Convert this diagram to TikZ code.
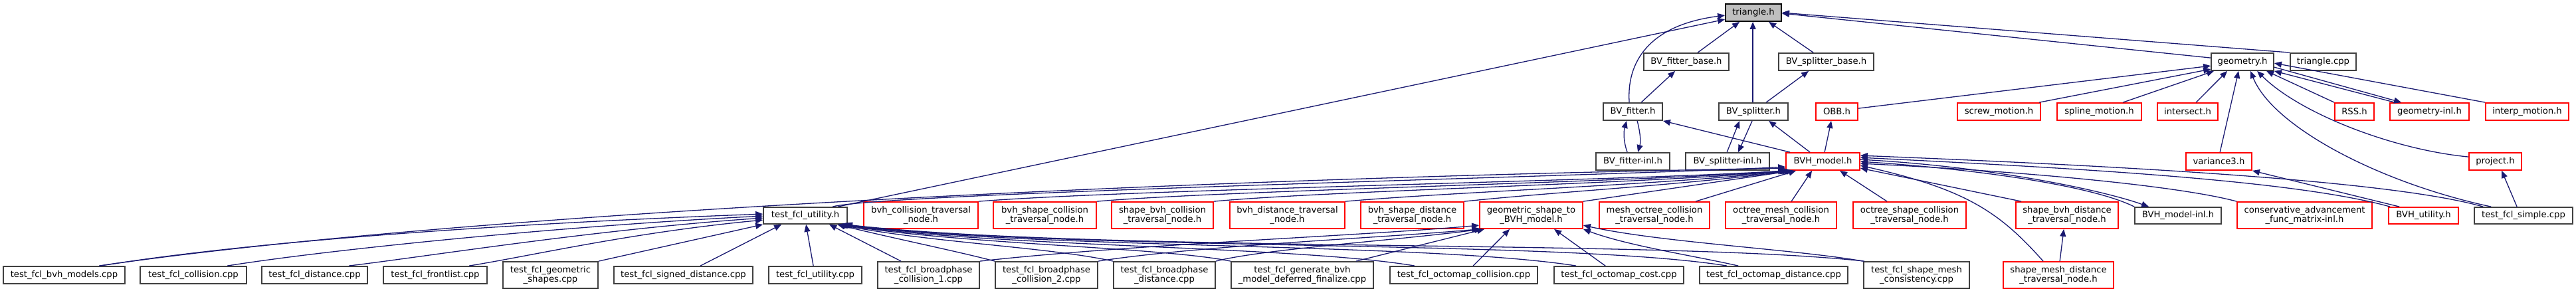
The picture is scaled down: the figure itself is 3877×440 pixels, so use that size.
\documentclass[tikz,border=0pt]{standalone}
\usepackage{fontspec}
\setmainfont{DejaVu Sans}
\usetikzlibrary{arrows.meta}
\definecolor{mb}{HTML}{191970}
\definecolor{bd}{HTML}{404040}
\definecolor{rd}{HTML}{FF0000}
\definecolor{gy}{HTML}{BFBFBF}
\newcommand\nd[7]{%
  \pgfmathsetmacro\ndw{#3-#2}\pgfmathsetmacro\ndh{#5-#4}%
  \pgfmathsetmacro\ndx{(#2+#3)/2}\pgfmathsetmacro\ndy{(#4+#5)/2}%
  \node[#7, minimum width=\ndw pt, minimum height=\ndh pt] (#1) at (\ndx,\ndy) {#6};}
\newcommand\ptN[2]{([xshift=#2pt]#1.north west)}
\newcommand\ptS[2]{([xshift=#2pt]#1.south west)}
\newcommand\ptW[2]{([yshift=-#2pt]#1.north west)}
\newcommand\ptE[2]{([yshift=-#2pt]#1.north east)}
\tikzset{
  basebox/.style={rectangle, line width=1.8pt, inner sep=0pt, align=center, text=black,
    font=\fontsize{13.2pt}{14pt}\selectfont},
  bbox/.style={basebox, draw=bd, fill=white},
  rbox/.style={basebox, draw=rd, fill=white},
  gbox/.style={basebox, draw=black, fill=gy},
  dep/.style={draw=mb, line width=1.3pt, {Triangle[length=11pt,width=9pt]}-}
}
\begin{document}
\begin{tikzpicture}[x=1pt,y=-1pt]
\fill[white] (0,0) rectangle (3877,440);
\useasboundingbox (0,0) rectangle (3877,440);
% row 0-3
\nd{triangle}{2597}{2681}{6}{32}{triangle.h}{gbox}
\nd{BVfb}{2474}{2602}{80}{106}{BV\_fitter\_base.h}{bbox}
\nd{BVsb}{2677}{2820}{80}{106}{BV\_splitter\_base.h}{bbox}
\nd{geom}{3328}{3422}{80}{106}{geometry.h}{bbox}
\nd{tcpp}{3447}{3546}{80}{106}{triangle.cpp}{bbox}
\nd{BVf}{2413}{2502}{155}{181}{BV\_fitter.h}{bbox}
\nd{BVs}{2587}{2691}{155}{181}{BV\_splitter.h}{bbox}
\nd{OBB}{2733}{2796}{155}{181}{OBB.h}{rbox}
\nd{screw}{2946}{3071}{155}{181}{screw\_motion.h}{rbox}
\nd{spline}{3096}{3223}{155}{181}{spline\_motion.h}{rbox}
\nd{inters}{3247}{3338}{155}{181}{intersect.h}{rbox}
\nd{RSS}{3514}{3573}{155}{181}{RSS.h}{rbox}
\nd{geominl}{3597}{3716}{155}{181}{geometry-inl.h}{rbox}
\nd{interp}{3741}{3866}{155}{181}{interp\_motion.h}{rbox}
\nd{BVfi}{2402}{2513}{230}{256}{BV\_fitter-inl.h}{bbox}
\nd{BVsi}{2537}{2663}{230}{256}{BV\_splitter-inl.h}{bbox}
\nd{BVH}{2688}{2799}{230}{256}{BVH\_model.h}{rbox}
\nd{var3}{3290}{3389}{230}{256}{variance3.h}{rbox}
\nd{proj}{3716}{3795}{230}{256}{project.h}{rbox}
% row 4
\nd{utilh}{1149}{1275}{312}{337}{test\_fcl\_utility.h}{bbox}
\nd{bvhcoll}{1300}{1472}{304}{344}{bvh\_collision\_traversal\\\_node.h}{rbox}
\nd{bvhshapecoll}{1495}{1650}{304}{344}{bvh\_shape\_collision\\\_traversal\_node.h}{rbox}
\nd{shapebvhcoll}{1673}{1826}{304}{344}{shape\_bvh\_collision\\\_traversal\_node.h}{rbox}
\nd{bvhdist}{1851}{2024}{304}{344}{bvh\_distance\_traversal\\\_node.h}{rbox}
\nd{bvhshapedist}{2048}{2203}{304}{344}{bvh\_shape\_distance\\\_traversal\_node.h}{rbox}
\nd{geomshape}{2227}{2382}{304}{344}{geometric\_shape\_to\\\_BVH\_model.h}{rbox}
\nd{meshoctree}{2407}{2573}{304}{344}{mesh\_octree\_collision\\\_traversal\_node.h}{rbox}
\nd{octreemesh}{2597}{2764}{304}{344}{octree\_mesh\_collision\\\_traversal\_node.h}{rbox}
\nd{octreeshape}{2789}{2959}{304}{344}{octree\_shape\_collision\\\_traversal\_node.h}{rbox}
\nd{shapebvhdist}{3034}{3188}{304}{344}{shape\_bvh\_distance\\\_traversal\_node.h}{rbox}
\nd{BVHinl}{3213}{3343}{312}{337}{BVH\_model-inl.h}{bbox}
\nd{consadv}{3367}{3570}{304}{344}{conservative\_advancement\\\_func\_matrix-inl.h}{rbox}
\nd{BVHutil}{3595}{3700}{312}{337}{BVH\_utility.h}{rbox}
\nd{simple}{3724}{3872}{312}{337}{test\_fcl\_simple.cpp}{bbox}
% row 5
\nd{bvhmodels}{5}{188}{401}{427}{test\_fcl\_bvh\_models.cpp}{bbox}
\nd{collision}{211}{371}{401}{427}{test\_fcl\_collision.cpp}{bbox}
\nd{distance}{394}{553}{401}{427}{test\_fcl\_distance.cpp}{bbox}
\nd{frontlist}{577}{733}{401}{427}{test\_fcl\_frontlist.cpp}{bbox}
\nd{geomshapes}{757}{900}{394}{434}{test\_fcl\_geometric\\\_shapes.cpp}{bbox}
\nd{signeddist}{924}{1133}{401}{427}{test\_fcl\_signed\_distance.cpp}{bbox}
\nd{utilcpp}{1157}{1297}{401}{427}{test\_fcl\_utility.cpp}{bbox}
\nd{bp1}{1321}{1474}{394}{434}{test\_fcl\_broadphase\\\_collision\_1.cpp}{bbox}
\nd{bp2}{1498}{1652}{394}{434}{test\_fcl\_broadphase\\\_collision\_2.cpp}{bbox}
\nd{bpd}{1676}{1829}{394}{434}{test\_fcl\_broadphase\\\_distance.cpp}{bbox}
\nd{genbvh}{1853}{2067}{394}{434}{test\_fcl\_generate\_bvh\\\_model\_deferred\_finalize.cpp}{bbox}
\nd{octcoll}{2092}{2314}{401}{427}{test\_fcl\_octomap\_collision.cpp}{bbox}
\nd{octcost}{2339}{2534}{401}{427}{test\_fcl\_octomap\_cost.cpp}{bbox}
\nd{octdist}{2558}{2781}{401}{427}{test\_fcl\_octomap\_distance.cpp}{bbox}
\nd{shapemesh}{2805}{2964}{394}{434}{test\_fcl\_shape\_mesh\\\_consistency.cpp}{bbox}
\nd{shapemeshdist}{3015}{3181}{394}{434}{shape\_mesh\_distance\\\_traversal\_node.h}{rbox}

% ---- edges into triangle.h
\draw[dep] \ptW{triangle}{24} -- \ptN{utilh}{113};
\draw[dep] \ptW{triangle}{18} .. controls (2480,38) and (2448,95) .. \ptN{BVf}{40};
\draw[dep] \ptS{triangle}{22} -- \ptN{BVfb}{82};
\draw[dep] \ptS{triangle}{42} -- \ptN{BVs}{52};
\draw[dep] \ptS{triangle}{66} -- \ptN{BVsb}{53};
\draw[dep] \ptE{triangle}{15} -- \ptW{geom}{8};
\draw[dep] \ptE{triangle}{14} -- (tcpp.north west);
% ---- fitter / splitter
\draw[dep] \ptS{BVfb}{48} -- \ptN{BVf}{58};
\draw[dep] \ptS{BVsb}{46} -- \ptN{BVs}{72};
\draw[dep] \ptS{BVf}{36} .. controls (2443,200) and (2444,215) .. \ptN{BVfi}{48};
\draw[dep] \ptN{BVfi}{64} .. controls (2470,212) and (2468,197) .. \ptS{BVf}{52};
\draw[dep] \ptS{BVs}{32} -- \ptN{BVsi}{63};
\draw[dep] \ptN{BVsi}{80} -- \ptS{BVs}{51};
\draw[dep] (BVf.south east) -- \ptN{BVH}{7};
\draw[dep] \ptS{BVs}{76} -- \ptN{BVH}{37};
\draw[dep] \ptS{OBB}{24} -- \ptN{BVH}{59};
% ---- into geometry.h
\draw[dep] \ptW{geom}{20} -- \ptE{OBB}{9};
\draw[dep] \ptW{geom}{25} -- \ptN{screw}{124};
\draw[dep] \ptS{geom}{5} -- \ptN{spline}{100};
\draw[dep] \ptS{geom}{25} -- \ptN{inters}{59};
\draw[dep] \ptS{geom}{42} -- \ptN{var3}{52};
\draw[dep] \ptS{geom}{60} .. controls (3420,190) and (3580,275) .. \ptN{simple}{26};
\draw[dep] \ptS{geom}{70} .. controls (3460,170) and (3600,225) .. \ptW{proj}{7};
\draw[dep] \ptS{geom}{84} -- (RSS.north west);
\draw[dep] (geom.south east) -- \ptN{geominl}{8};
\draw[dep] \ptN{geominl}{18} -- \ptE{geom}{22};
\draw[dep] \ptE{geom}{16} -- (interp.north west);
\draw[dep] (var3.south east) -- \ptN{BVHutil}{17};
\draw[dep] \ptS{proj}{50} -- \ptN{simple}{65};
% ---- into BVH_model.h from the right
\draw[dep] \ptE{BVH}{24} -- \ptN{shapebvhdist}{9};
\draw[dep] \ptE{BVH}{20} .. controls (2960,285) and (3010,320) .. \ptN{shapemeshdist}{61};
\draw[dep] \ptS{shapebvhdist}{73} -- \ptN{shapemeshdist}{86};
\draw[dep] \ptE{BVH}{14} .. controls (2980,255) and (3150,280) .. (BVHinl.north west);
\draw[dep] \ptN{BVHinl}{22} .. controls (3160,285) and (2990,250) .. \ptE{BVH}{11};
\draw[dep] \ptE{BVH}{17} .. controls (3050,258) and (3280,280) .. (consadv.north west);
\draw[dep] \ptE{BVH}{8} .. controls (3100,252) and (3450,270) .. \ptN{BVHutil}{3};
\draw[dep] \ptE{BVH}{5} .. controls (3200,250) and (3600,272) .. \ptN{simple}{14};
% ---- into BVH_model.h from the left
\draw[dep] \ptW{BVH}{22} .. controls (2450,264) and (1330,290) .. \ptN{utilh}{105};
\draw[dep] \ptW{BVH}{24} .. controls (1800,268) and (700,320) .. \ptN{bvhmodels}{145};
\draw[dep] (BVH.south west) .. controls (2450,272) and (1700,285) .. (bvhcoll.north east);
\draw[dep] \ptS{BVH}{2} .. controls (2470,274) and (1850,286) .. (bvhshapecoll.north east);
\draw[dep] \ptS{BVH}{4} .. controls (2490,276) and (2000,287) .. (shapebvhcoll.north east);
\draw[dep] \ptS{BVH}{6} .. controls (2510,278) and (2200,288) .. (bvhdist.north east);
\draw[dep] \ptS{BVH}{9} .. controls (2540,278) and (2350,288) .. (bvhshapedist.north east);
\draw[dep] \ptS{BVH}{12} -- (geomshape.north east);
\draw[dep] \ptS{BVH}{16} -- \ptN{meshoctree}{146};
\draw[dep] \ptS{BVH}{40} -- \ptN{octreemesh}{100};
\draw[dep] \ptS{BVH}{82} -- \ptN{octreeshape}{52};
% ---- into test_fcl_utility.h
\draw[dep] \ptW{utilh}{11} .. controls (800,335) and (400,360) .. \ptN{bvhmodels}{147};
\draw[dep] \ptW{utilh}{14} .. controls (850,340) and (500,375) .. \ptN{collision}{132};
\draw[dep] \ptW{utilh}{17} .. controls (900,345) and (650,385) .. \ptN{distance}{132};
\draw[dep] \ptW{utilh}{20} .. controls (950,350) and (800,385) .. \ptN{frontlist}{130};
\draw[dep] (utilh.south west) -- (geomshapes.north east);
\draw[dep] \ptS{utilh}{28} -- \ptN{signeddist}{131};
\draw[dep] \ptS{utilh}{65} -- \ptN{utilcpp}{68};
\draw[dep] \ptS{utilh}{100} -- \ptN{bp1}{36};
\draw[dep] \ptS{utilh}{112} .. controls (1350,360) and (1440,378) .. (bp2.north west);
\draw[dep] \ptS{utilh}{114} .. controls (1400,365) and (1580,372) .. (bpd.north west);
\draw[dep] \ptS{utilh}{116} .. controls (1450,368) and (1750,372) .. (genbvh.north west);
\draw[dep] \ptS{utilh}{118} .. controls (1500,372) and (1950,370) .. \ptN{octcoll}{38};
\draw[dep] \ptS{utilh}{120} .. controls (1550,375) and (2150,365) .. \ptN{octcost}{34};
\draw[dep] \ptS{utilh}{122} .. controls (1600,378) and (2350,360) .. \ptN{octdist}{42};
\draw[dep] \ptS{utilh}{124} .. controls (1650,380) and (2500,360) .. \ptN{shapemesh}{2};
% ---- into geometric_shape_to_BVH_model.h
\draw[dep] \ptW{geomshape}{36} .. controls (2050,355) and (1700,368) .. (bp1.north east);
\draw[dep] (geomshape.south west) .. controls (2080,358) and (1800,370) .. (bp2.north east);
\draw[dep] \ptS{geomshape}{4} .. controls (2100,362) and (1900,375) .. (bpd.north east);
\draw[dep] \ptS{geomshape}{8} -- \ptN{genbvh}{189};
\draw[dep] \ptS{geomshape}{46} -- \ptN{octcoll}{126};
\draw[dep] \ptS{geomshape}{113} -- \ptN{octcost}{78};
\draw[dep] (geomshape.south east) .. controls (2450,370) and (2550,385) .. \ptN{octdist}{59};
\draw[dep] \ptE{geomshape}{36} .. controls (2500,365) and (2700,375) .. (shapemesh.north west);
\end{tikzpicture}
\end{document}
